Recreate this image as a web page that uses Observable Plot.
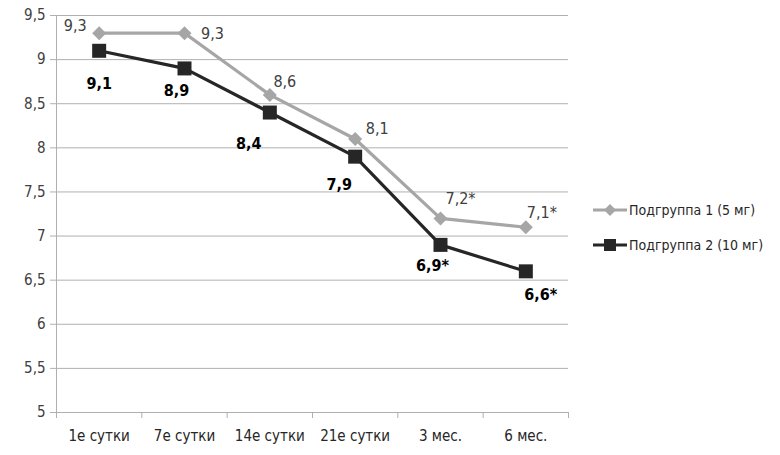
<!DOCTYPE html>
<html>
<head>
<meta charset="utf-8">
<script src="https://cdn.jsdelivr.net/npm/d3@7"></script>
<script src="https://cdn.jsdelivr.net/npm/@observablehq/plot@0.6"></script>
<style>
  html, body { margin: 0; padding: 0; background: #fff; }
  #wrap { position: relative; width: 780px; height: 455px; font-family: "DejaVu Sans Condensed", sans-serif; }
  #legend { position: absolute; left: 593px; top: 199px; font-size: 14px; color: #262626; }
  .row { display: flex; align-items: center; height: 22px; margin-bottom: 13px; }
  .row svg { margin-right: 2px; }
</style>
</head>
<body>
<div id="wrap"></div>
<script>
// Time points of the observation
const periods = ["1е сутки", "7е сутки", "14е сутки", "21е сутки", "3 мес.", "6 мес."];
// Series names
const seriesNames = ["Подгруппа 1 (5 мг)", "Подгруппа 2 (10 мг)"];
// Mean values per time point
const group1 = [9.3, 9.3, 8.6, 8.1, 7.2, 7.1];
const group2 = [9.1, 8.9, 8.4, 7.9, 6.9, 6.6];
// Significant difference from baseline (marked with *)
const sig1 = [false, false, false, false, true, true];
const sig2 = [false, false, false, false, true, true];
// Y axis ticks
const yTicks = [5, 5.5, 6, 6.5, 7, 7.5, 8, 8.5, 9, 9.5];

const fmt = (v, s) => String(v).replace(".", ",") + (s ? "*" : "");
const rows1 = group1.map((v, i) => ({i: i + 0.5, v, label: fmt(v, sig1[i])}));
const rows2 = group2.map((v, i) => ({i: i + 0.5, v, label: fmt(v, sig2[i])}));

// label offsets for each point of each series
const off1 = [[-24, -7], [28, 1], [15, -13], [22, -10], [20, -20], [16, -14]];
const off2 = [[0, 33], [-8, 22], [-21, 31], [-16, 28], [-8, 21], [15, 24]];

const c1 = "#a6a6a6", c2 = "#262626", gridC = "#b0b0b0";
const font = "'DejaVu Sans Condensed', sans-serif";

const labelMarks = (rows, offs, opts) => rows.map((r, k) =>
  Plot.text([r], {x: "i", y: "v", text: "label", dx: offs[k][0], dy: offs[k][1], ...opts}));

const chart = Plot.plot({
  width: 780,
  height: 455,
  marginLeft: 56,
  marginRight: 212,
  marginTop: 15,
  marginBottom: 43,
  style: {fontFamily: font, background: "#fff"},
  x: {domain: [0, 6]},
  y: {domain: [5, 9.5]},
  marks: [
    Plot.gridY(yTicks, {stroke: gridC, strokeOpacity: 1, strokeWidth: 1}),
    Plot.axisY(yTicks, {tickSize: 6, tickPadding: 5, stroke: gridC, fontSize: 15, fill: "#404040",
      tickFormat: d => String(d).replace(".", ","), label: null}),
    Plot.ruleX([0], {stroke: gridC}),
    Plot.axisX(d3.range(0, 7), {tickSize: 6, stroke: gridC, tickFormat: () => "", label: null}),
    Plot.axisX(periods.map((_, i) => i + 0.5), {tickSize: 0, tickPadding: 18, fontSize: 15, fill: "#262626",
      tickFormat: d => periods[d - 0.5], label: null}),
    Plot.line(rows1, {x: "i", y: "v", stroke: c1, strokeWidth: 3.2}),
    Plot.dot(rows1, {x: "i", y: "v", symbol: "diamond2", r: 6.3, fill: c1, stroke: "none"}),
    Plot.line(rows2, {x: "i", y: "v", stroke: c2, strokeWidth: 3.2}),
    Plot.dot(rows2, {x: "i", y: "v", symbol: "square", r: 7.9, fill: c2, stroke: "none"}),
    ...labelMarks(rows1, off1, {fontSize: 16, fill: "#404040"}),
    ...labelMarks(rows2, off2, {fontSize: 16, fill: "#000", fontWeight: "bold"})
  ]
});

const wrap = document.getElementById("wrap");
wrap.appendChild(chart);

// Legend
const legend = document.createElement("div");
legend.id = "legend";
const swatch = (color, shape) => {
  const s = d3.create("svg").attr("width", 34).attr("height", 16);
  s.append("line").attr("x1", 0).attr("x2", 34).attr("y1", 8).attr("y2", 8)
    .attr("stroke", color).attr("stroke-width", 3.2);
  if (shape === "diamond") {
    s.append("path").attr("d", "M17,2L23,8L17,14L11,8Z").attr("fill", color);
  } else {
    s.append("rect").attr("x", 11).attr("y", 2).attr("width", 12).attr("height", 12).attr("fill", color);
  }
  return s.node();
};
[[seriesNames[0], c1, "diamond"], [seriesNames[1], c2, "square"]].forEach(([name, color, shape]) => {
  const row = document.createElement("div");
  row.className = "row";
  row.appendChild(swatch(color, shape));
  const t = document.createElement("span");
  t.textContent = name;
  row.appendChild(t);
  legend.appendChild(row);
});
wrap.appendChild(legend);
</script>
</body>
</html>
